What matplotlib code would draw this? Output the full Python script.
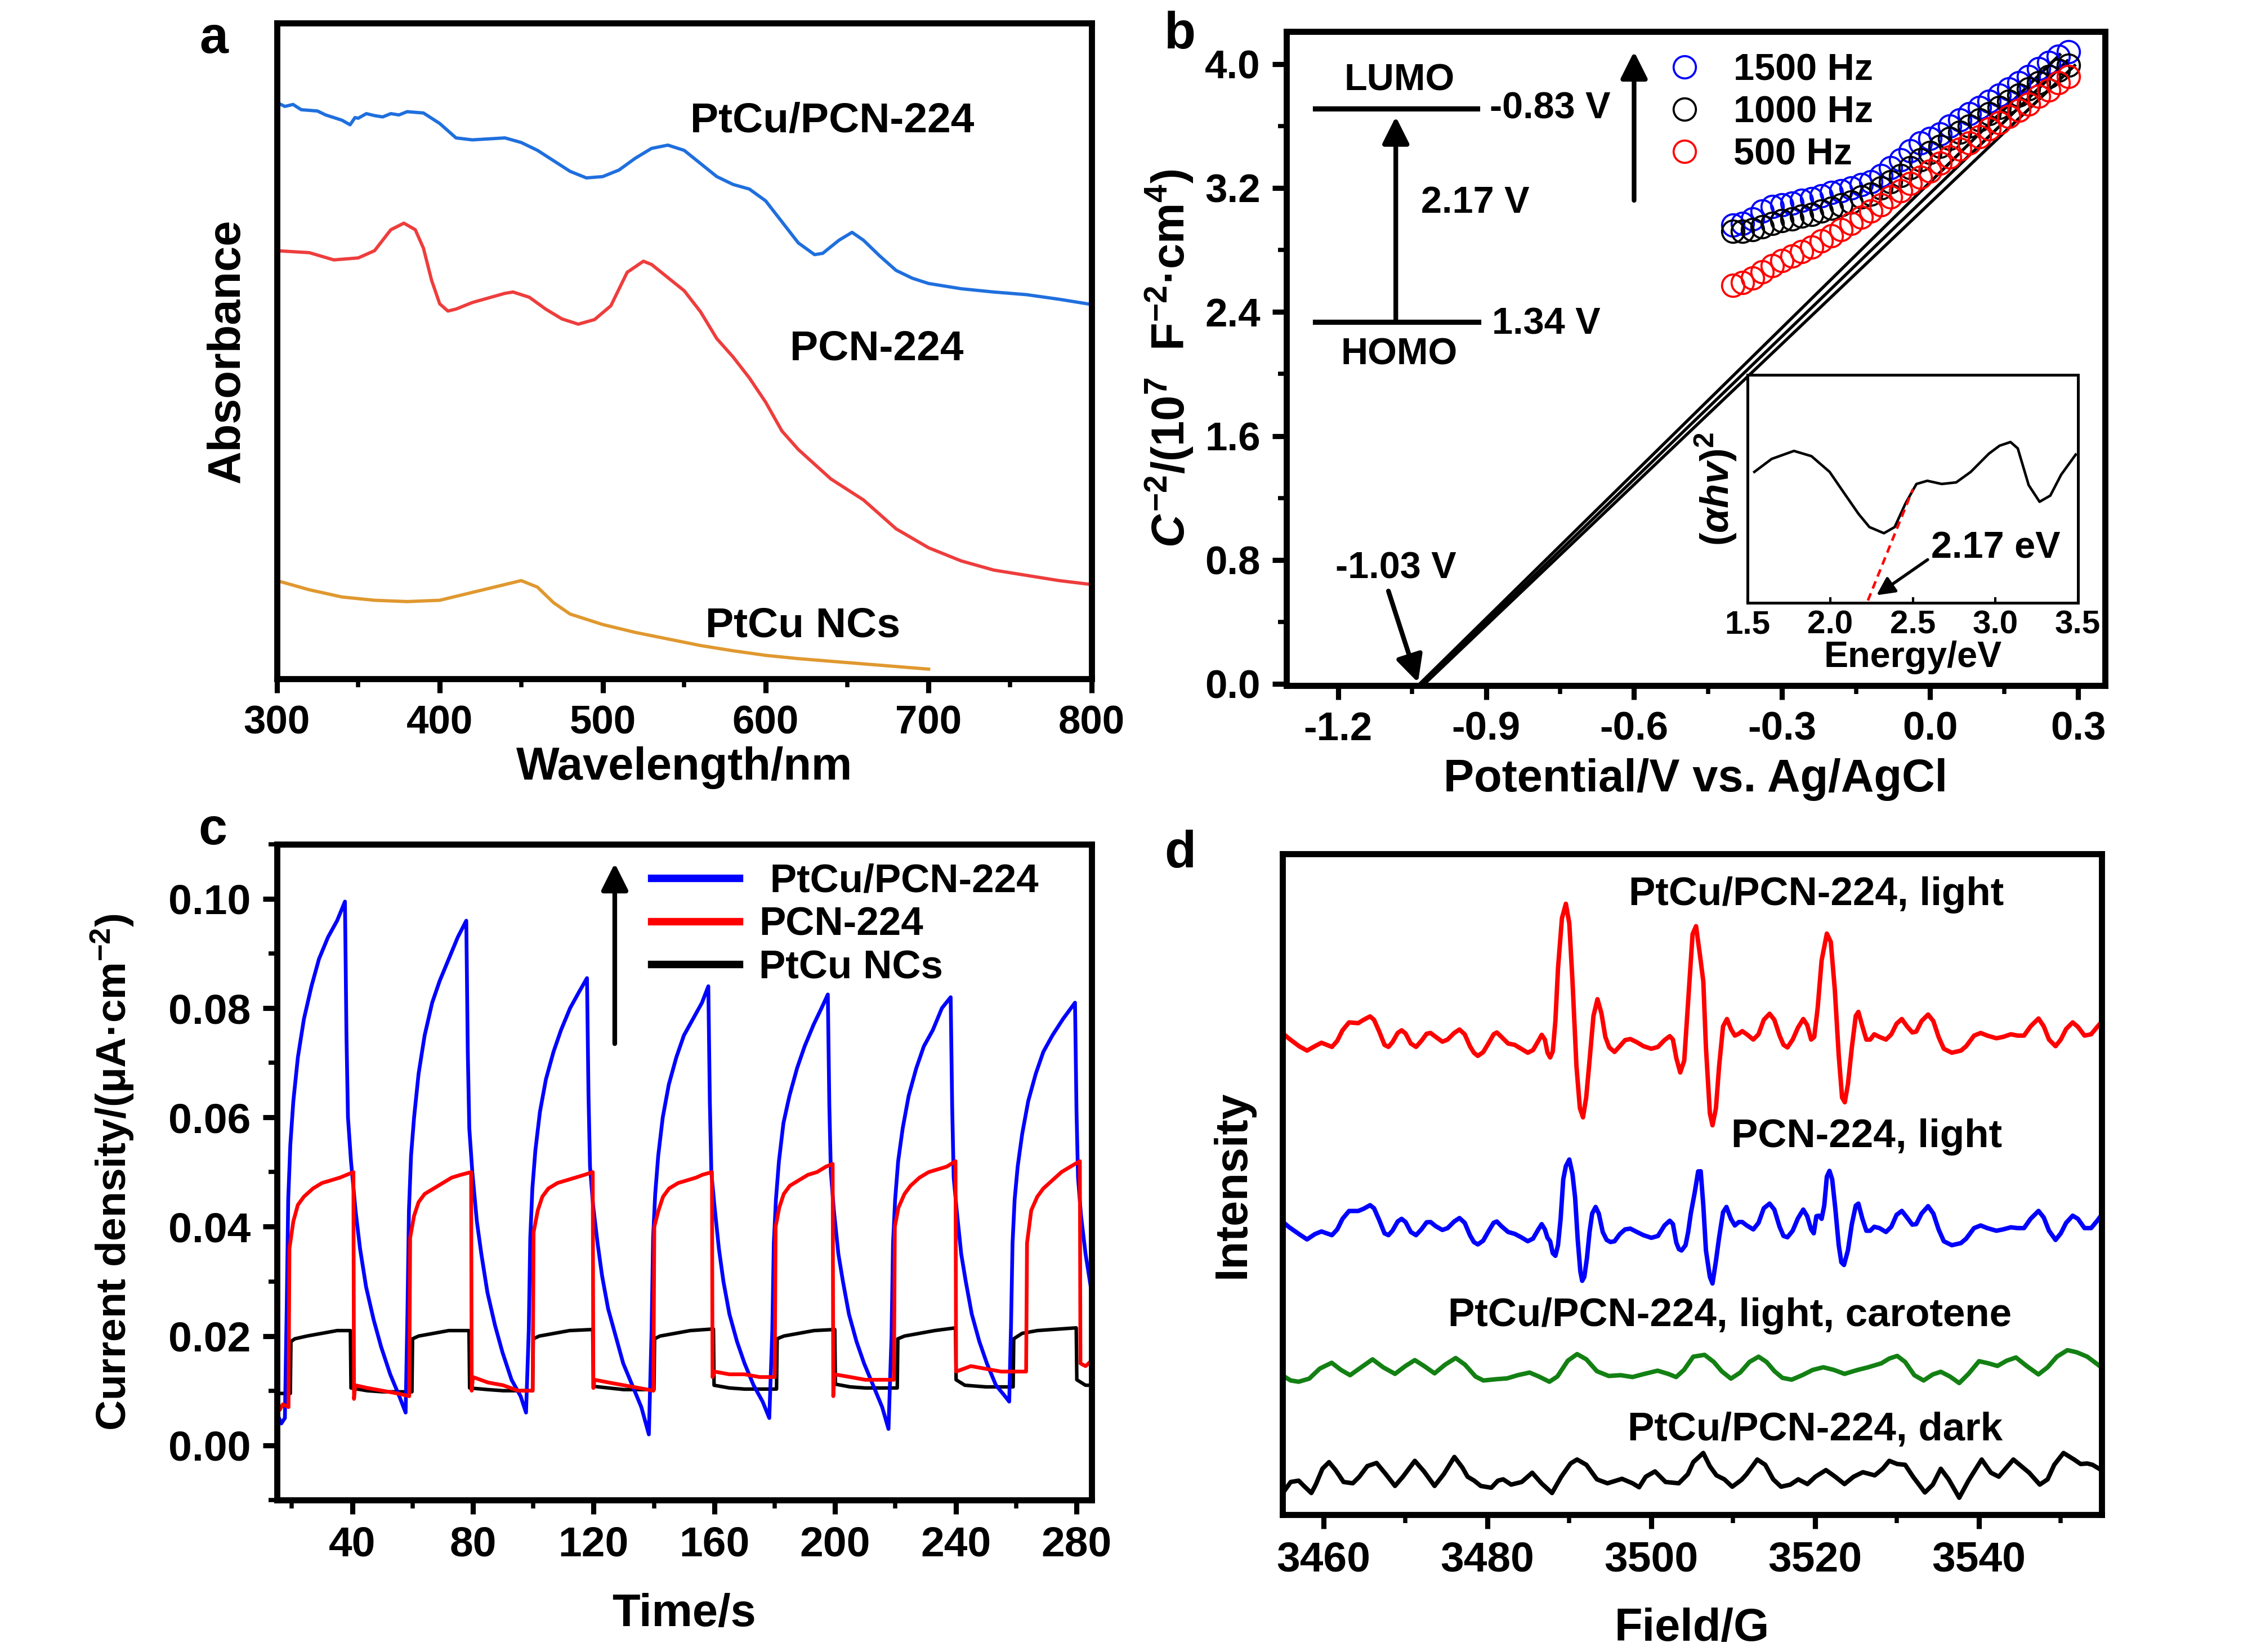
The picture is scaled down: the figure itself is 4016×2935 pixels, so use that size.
import numpy as np
import matplotlib
matplotlib.use('Agg')
import matplotlib.pyplot as plt
from matplotlib.ticker import MultipleLocator, FormatStrFormatter
from matplotlib.lines import Line2D

plt.rcParams['font.family'] = ['Liberation Sans', 'DejaVu Sans']
plt.rcParams['font.weight'] = 'bold'
plt.rcParams['axes.labelweight'] = 'bold'
plt.rcParams['axes.unicode_minus'] = False
plt.rcParams['mathtext.fontset'] = 'custom'
plt.rcParams['mathtext.rm'] = 'Liberation Sans:bold'
plt.rcParams['mathtext.it'] = 'Liberation Sans:italic:bold'
plt.rcParams['mathtext.bf'] = 'Liberation Sans:bold'
plt.rcParams['axes.linewidth'] = 2.6

# ---------------- a: UV-vis absorbance ----------------
wl_ptcu_pcn = [300, 305, 310, 315, 320, 325, 330, 335, 340, 345, 348, 350, 355, 360, 365, 370,
               375, 380, 390, 400, 410, 420, 440, 450, 460, 480, 490, 500,
               510, 520, 530, 540, 550, 560, 570, 580, 590, 600, 610, 620, 630, 635, 645, 653,
               660, 670, 680, 690, 700, 720, 740, 760, 780, 800]
abs_ptcu_pcn = [0.879, 0.873, 0.876, 0.868, 0.867, 0.866, 0.860, 0.856, 0.852, 0.845, 0.856,
                0.855, 0.862, 0.859, 0.857, 0.862, 0.860, 0.865, 0.863, 0.847, 0.825, 0.822,
                0.825, 0.818, 0.806, 0.774, 0.764, 0.766, 0.776, 0.794, 0.809, 0.814, 0.806,
                0.786, 0.766, 0.754, 0.747, 0.729, 0.697, 0.665, 0.647, 0.649, 0.669, 0.681,
                0.669, 0.645, 0.623, 0.611, 0.603, 0.595, 0.590, 0.586, 0.579, 0.571]
wl_pcn = [300, 320, 335, 350, 360, 370, 378, 385, 390, 395, 400, 405, 410, 420, 440, 445, 455,
          465, 475, 485, 495, 505, 515, 525, 530, 540, 550, 560, 570, 580, 590, 600, 610, 620,
          640, 660, 680, 700, 720, 740, 760, 780, 800]
abs_pcn = [0.653, 0.650, 0.639, 0.642, 0.653, 0.685, 0.695, 0.685, 0.657, 0.608, 0.572, 0.561,
           0.564, 0.574, 0.588, 0.590, 0.582, 0.564, 0.549, 0.541, 0.548, 0.569, 0.620, 0.637,
           0.632, 0.612, 0.592, 0.560, 0.519, 0.491, 0.459, 0.422, 0.378, 0.350, 0.305, 0.273,
           0.229, 0.200, 0.180, 0.166, 0.158, 0.150, 0.144]
wl_ptcu = [300, 320, 340, 360, 380, 400, 420, 440, 450, 460, 470, 480, 500, 520, 540, 560, 580,
           600, 620, 640, 660, 680, 700]
abs_ptcu = [0.150, 0.136, 0.125, 0.120, 0.118, 0.120, 0.132, 0.144, 0.150, 0.140, 0.116, 0.099,
            0.083, 0.071, 0.061, 0.051, 0.043, 0.036, 0.031, 0.027, 0.023, 0.019, 0.015]

# ---------------- b: Mott-Schottky ----------------
ms_x = [-0.40, -0.38, -0.36, -0.34, -0.32, -0.30, -0.28, -0.26, -0.24, -0.22, -0.20, -0.18,
        -0.16, -0.14, -0.12, -0.10, -0.08, -0.06, -0.04, -0.02, 0.00, 0.02, 0.04, 0.06, 0.08,
        0.10, 0.12, 0.14, 0.16, 0.18, 0.20, 0.22, 0.24, 0.26, 0.28]
ms_1500 = [2.96, 2.97, 3.00, 3.05, 3.08, 3.09, 3.10, 3.12, 3.13, 3.15, 3.17, 3.18, 3.20, 3.22,
           3.24, 3.28, 3.33, 3.38, 3.44, 3.49, 3.52, 3.55, 3.60, 3.64, 3.68, 3.72, 3.76, 3.80,
           3.84, 3.88, 3.92, 3.97, 4.01, 4.05, 4.08]
ms_1000 = [2.92, 2.92, 2.93, 2.95, 2.97, 2.99, 3.00, 3.02, 3.03, 3.05, 3.07, 3.09, 3.11, 3.14,
           3.16, 3.20, 3.24, 3.28, 3.33, 3.38, 3.43, 3.47, 3.52, 3.56, 3.60, 3.64, 3.68, 3.72,
           3.76, 3.80, 3.84, 3.88, 3.92, 3.96, 3.99]
ms_500 = [2.57, 2.59, 2.62, 2.66, 2.70, 2.73, 2.76, 2.79, 2.82, 2.86, 2.89, 2.93, 2.97, 3.01,
          3.05, 3.09, 3.14, 3.18, 3.23, 3.27, 3.31, 3.36, 3.40, 3.45, 3.49, 3.53, 3.58, 3.62,
          3.66, 3.70, 3.74, 3.79, 3.83, 3.88, 3.92]
fit_x = [[-1.035, 0.263], [-1.030, 0.278], [-1.025, 0.293]]
fit_y = [[0.0, 4.06], [0.0, 4.02], [0.0, 3.99]]

inset_E = [1.54, 1.645, 1.78, 1.886, 1.996, 2.083, 2.171, 2.237, 2.325, 2.39, 2.456, 2.522,
           2.588, 2.675, 2.763, 2.851, 2.961, 3.026, 3.092, 3.136, 3.202, 3.268, 3.333, 3.399,
           3.487]
inset_A = [0.575, 0.632, 0.667, 0.644, 0.575, 0.483, 0.391, 0.333, 0.306, 0.333, 0.437, 0.522,
           0.536, 0.522, 0.529, 0.575, 0.655, 0.690, 0.706, 0.678, 0.517, 0.444, 0.471, 0.563,
           0.651]
tangent_E = [2.228, 2.5]
tangent_A = [0.011, 0.499]

# ---------------- c: photocurrent ----------------
blue_t = [15, 16.5, 17.7,
          18.3, 18.8, 19.5, 20.5, 22, 24, 26.5, 29, 32, 35, 37.6,
          38.1, 38.6, 39.6, 41.1, 42.6, 44.6, 47.1, 49.6, 52.6, 55.6, 57.7,
          58.3, 58.8, 59.5, 60.5, 62, 64, 66.5, 69, 72, 75, 77.8,
          78.3, 78.8, 79.8, 81.3, 82.8, 84.8, 87.3, 89.8, 92.8, 95.8, 97.6,
          98.5, 99.0, 99.7, 100.7, 102.2, 104.2, 106.7, 109.2, 112.2, 115.2, 117.8,
          118.3, 118.8, 119.8, 121.3, 122.8, 124.8, 127.3, 129.8, 132.8, 135.8, 138.3,
          139.2, 139.7, 140.4, 141.4, 142.9, 144.9, 147.4, 149.9, 152.9, 155.9, 158,
          158.5, 159, 160, 161.5, 163, 165, 167.5, 170, 173, 176, 178.2,
          179.2, 179.7, 180.4, 181.4, 182.9, 184.9, 187.4, 189.9, 192.9, 195.5, 197.6,
          198.1, 198.6, 199.6, 201.1, 202.6, 204.6, 207.1, 209.6, 212.6, 215.6, 217.7,
          218.7, 219.2, 219.9, 220.9, 222.4, 224.4, 226.9, 229.4, 232.4, 235.4, 238.3,
          238.8, 239.3, 240.3, 241.8, 243.3, 245.3, 247.8, 250.3, 253.3, 256.3, 257.7,
          258.3, 258.8, 259.5, 260.5, 262, 264, 266.5, 269, 272, 275.5, 279.5,
          280, 280.5, 281.5, 283, 285]
blue_j = [0.006, 0.004, 0.005,
          0.025, 0.045, 0.055, 0.063, 0.071, 0.078, 0.084, 0.089, 0.093, 0.096, 0.0995,
          0.075, 0.060, 0.052, 0.043, 0.036, 0.029, 0.023, 0.018, 0.013, 0.009, 0.006,
          0.024, 0.043, 0.053, 0.060, 0.068, 0.075, 0.081, 0.085, 0.089, 0.093, 0.096,
          0.072, 0.058, 0.050, 0.041, 0.035, 0.028, 0.022, 0.017, 0.012, 0.009, 0.006,
          0.021, 0.038, 0.047, 0.054, 0.061, 0.067, 0.072, 0.076, 0.080, 0.083, 0.0855,
          0.064, 0.051, 0.044, 0.037, 0.031, 0.025, 0.020, 0.015, 0.011, 0.007, 0.002,
          0.021, 0.038, 0.046, 0.053, 0.060, 0.066, 0.071, 0.075, 0.078, 0.081, 0.084,
          0.063, 0.050, 0.044, 0.036, 0.030, 0.024, 0.019, 0.015, 0.011, 0.008, 0.005,
          0.021, 0.037, 0.045, 0.052, 0.059, 0.064, 0.069, 0.073, 0.077, 0.080, 0.0825,
          0.062, 0.050, 0.043, 0.035, 0.030, 0.024, 0.019, 0.015, 0.011, 0.007, 0.003,
          0.020, 0.037, 0.045, 0.052, 0.058, 0.064, 0.069, 0.073, 0.076, 0.080, 0.082,
          0.062, 0.049, 0.043, 0.035, 0.030, 0.024, 0.019, 0.015, 0.011, 0.009, 0.008,
          0.022, 0.037, 0.045, 0.051, 0.057, 0.063, 0.068, 0.072, 0.075, 0.078, 0.081,
          0.061, 0.049, 0.042, 0.035, 0.028]
red_t = [15, 16, 17, 18.9,
         19.2, 20.5, 22, 24, 27, 30, 33, 36, 40.4,
         40.6, 41, 45, 50, 55, 58.9,
         59.2, 60.5, 62, 64, 67, 70, 73, 76, 79.4,
         79.6, 80, 85, 90, 95, 99.8,
         100.1, 101.5, 103, 105, 108, 111, 114, 117, 119.7,
         119.9, 120.3, 125, 130, 135, 139.8,
         140.1, 141.5, 143, 145, 148, 151, 154, 156, 159.2,
         159.4, 160, 165, 170, 175, 180,
         180.3, 181.5, 183, 185, 188, 191, 194, 197, 199.2,
         199.4, 199.8, 205, 210, 215, 219.5,
         219.8, 221, 223, 225, 228, 231, 234, 237, 239.9,
         240.1, 245, 250, 255, 260, 263.3,
         263.6, 265, 267, 269, 272, 275, 278, 281.1,
         281.3, 283, 285]
red_j = [0.007, 0.0065, 0.0075, 0.007,
         0.036, 0.041, 0.044, 0.0455, 0.047, 0.048, 0.0485, 0.049, 0.050,
         0.0085, 0.011, 0.0105, 0.010, 0.0095, 0.009,
         0.038, 0.042, 0.0445, 0.046, 0.047, 0.048, 0.049, 0.0495, 0.050,
         0.010, 0.0125, 0.0115, 0.011, 0.010, 0.010,
         0.039, 0.043, 0.0455, 0.047, 0.048, 0.0485, 0.049, 0.0495, 0.050,
         0.0105, 0.012, 0.0115, 0.011, 0.0105, 0.010,
         0.040, 0.043, 0.0455, 0.047, 0.048, 0.0485, 0.049, 0.0495, 0.050,
         0.0125, 0.0135, 0.013, 0.013, 0.0125, 0.0125,
         0.040, 0.0435, 0.046, 0.0475, 0.0485, 0.0495, 0.050, 0.051, 0.0515,
         0.009, 0.013, 0.0125, 0.012, 0.012, 0.012,
         0.040, 0.0435, 0.046, 0.0475, 0.049, 0.050, 0.0505, 0.051, 0.052,
         0.0135, 0.0145, 0.014, 0.0135, 0.0135, 0.0135,
         0.037, 0.043, 0.0455, 0.047, 0.0485, 0.050, 0.051, 0.052,
         0.015, 0.0145, 0.0155]
black_t = [15, 19.5, 19.7, 21, 25, 30, 35, 39.4,
           39.6, 45, 50, 59.8,
           60, 62, 67, 72, 78.7,
           78.9, 85, 90, 99.8,
           100, 102, 107, 112, 119.7,
           119.9, 125, 130, 140,
           140.2, 142, 147, 152, 159.7,
           159.9, 165, 170, 180.6,
           180.8, 183, 188, 193, 199.9,
           200.1, 205, 210, 220.6,
           220.8, 223, 228, 233, 239.9,
           240.1, 243, 250, 259,
           259.2, 262, 267, 272, 279.9,
           280.1, 283, 285]
black_j = [0.0095, 0.0095, 0.019, 0.0195, 0.020, 0.0205, 0.021, 0.021,
           0.0105, 0.010, 0.0098, 0.0098,
           0.0195, 0.020, 0.0205, 0.021, 0.021,
           0.0105, 0.0102, 0.010, 0.010,
           0.0195, 0.020, 0.0205, 0.021, 0.0212,
           0.0108, 0.0105, 0.0102, 0.0102,
           0.0195, 0.020, 0.0205, 0.021, 0.0213,
           0.011, 0.0105, 0.0103, 0.0103,
           0.0195, 0.020, 0.0205, 0.021, 0.0212,
           0.0112, 0.0107, 0.0105, 0.0105,
           0.0195, 0.020, 0.0205, 0.021, 0.0215,
           0.012, 0.011, 0.0107, 0.0107,
           0.0195, 0.0205, 0.021, 0.0212, 0.0215,
           0.012, 0.011, 0.011]

# ---------------- d: EPR (offset traces, arbitrary units) ----------------
epr_red_B = [3455.00, 3455.75, 3457.03, 3458.00, 3458.96, 3459.76, 3460.40, 3461.04, 3461.69,
             3462.33, 3463.13, 3464.25, 3464.90, 3465.70, 3466.18, 3466.82, 3467.46, 3467.94,
             3468.43, 3469.07, 3469.55, 3470.03, 3470.67, 3471.31, 3471.96, 3472.60, 3473.08,
             3473.72, 3474.52, 3475.16, 3475.97, 3476.61, 3477.25, 3477.89, 3478.37, 3478.85,
             3479.50, 3480.14, 3480.78, 3481.17, 3481.74, 3482.55, 3483.35, 3484.15, 3484.95,
             3485.59, 3486.24, 3486.65, 3487.04, 3487.36, 3487.68, 3488.00, 3488.32, 3488.64,
             3489.12, 3489.60, 3490.02, 3490.41, 3490.89, 3491.31, 3491.69, 3492.08, 3492.49,
             3492.97, 3493.46, 3493.94, 3494.42, 3494.90, 3495.54, 3496.18, 3496.83, 3497.47,
             3498.27, 3499.07, 3500.03, 3500.84, 3501.64, 3502.28, 3502.67, 3503.08, 3503.56,
             3504.05, 3504.37, 3504.69, 3505.07, 3505.49, 3505.97, 3506.38, 3506.70, 3507.18,
             3507.50, 3507.92, 3508.31, 3508.79, 3509.27, 3509.75, 3510.23, 3510.71, 3511.13,
             3511.68, 3512.48, 3513.12, 3513.76, 3514.47, 3515.05, 3515.69, 3516.17, 3516.65,
             3517.29, 3517.93, 3518.58, 3519.06, 3519.54, 3519.92, 3520.34, 3520.82, 3521.46,
             3521.94, 3522.43, 3522.91, 3523.32, 3523.65, 3524.03, 3524.51, 3524.99, 3525.31,
             3525.80, 3526.28, 3526.76, 3527.24, 3527.88, 3528.68, 3529.33, 3529.97, 3530.61,
             3531.25, 3531.89, 3532.37, 3533.02, 3533.82, 3534.46, 3535.10, 3535.74, 3536.71,
             3537.83, 3538.47, 3539.43, 3540.24, 3541.04, 3542.16, 3542.96, 3543.93, 3544.73,
             3545.53, 3546.33, 3547.30, 3547.94, 3548.58, 3549.38, 3550.02, 3550.67, 3551.47,
             3552.11, 3552.91, 3553.72, 3554.52, 3555.00]
epr_red = [72.90, 72.13, 70.93, 70.26, 70.93, 71.45, 71.13, 70.82, 71.73,
           73.33, 74.53, 74.41, 74.92, 75.44, 74.92, 73.13, 71.13, 70.82,
           71.53, 72.93, 73.33, 72.85, 71.33, 70.82, 71.73, 72.81, 72.93,
           72.33, 71.61, 71.93, 72.93, 73.45, 72.73, 70.93, 69.94, 69.46,
           70.02, 71.33, 72.73, 73.01, 72.33, 71.33, 71.13, 70.54, 69.94,
           70.34, 71.73, 72.65, 71.93, 69.94, 69.22, 70.14, 74.73, 82.71,
           90.29, 92.48, 89.49, 80.71, 67.94, 61.56, 60.16, 63.15, 68.74,
           75.52, 78.04, 75.92, 72.33, 70.74, 70.06, 70.93, 71.85, 72.01,
           71.53, 70.93, 70.54, 70.82, 71.85, 72.45, 71.93, 69.14, 66.95,
           68.74, 74.73, 80.71, 87.89, 89.09, 84.70, 80.71, 70.74, 60.76,
           58.96, 61.56, 67.94, 73.93, 75.04, 73.53, 72.53, 72.81, 73.21,
           72.73, 71.93, 72.73, 74.92, 75.84, 74.92, 72.53, 71.13, 70.74,
           71.93, 73.73, 75.04, 74.13, 71.93, 72.33, 76.72, 83.90, 87.97,
           86.70, 79.51, 69.54, 63.15, 62.44, 65.15, 70.74, 75.52, 76.12,
           73.93, 71.93, 71.93, 72.73, 72.33, 71.93, 72.73, 74.33, 75.04,
           73.93, 73.01, 73.13, 74.73, 75.72, 74.73, 72.33, 70.54, 69.94,
           70.26, 70.93, 72.53, 72.93, 72.53, 72.13, 72.33, 72.73, 72.53,
           72.53, 73.93, 75.12, 73.93, 71.93, 70.93, 71.93, 73.53, 74.53,
           73.85, 72.53, 72.73, 73.93, 74.60]
epr_blue_B = [3455.00, 3455.75, 3457.03, 3458.00, 3458.96, 3459.76, 3460.40, 3461.04, 3461.69,
              3462.33, 3463.13, 3464.25, 3464.90, 3465.70, 3466.18, 3466.82, 3467.46, 3467.94,
              3468.43, 3469.07, 3469.55, 3470.03, 3470.67, 3471.31, 3471.96, 3472.60, 3473.08,
              3473.72, 3474.52, 3475.16, 3475.97, 3476.61, 3477.25, 3477.89, 3478.37, 3478.85,
              3479.50, 3480.14, 3480.78, 3481.17, 3481.74, 3482.55, 3483.35, 3484.15, 3484.95,
              3485.59, 3486.24, 3486.65, 3487.04, 3487.36, 3487.68, 3488.00, 3488.32, 3488.64,
              3488.96, 3489.28, 3489.60, 3490.02, 3490.41, 3490.73, 3491.05, 3491.37, 3491.59,
              3491.85, 3492.17, 3492.49, 3492.81, 3493.23, 3493.62, 3494.10, 3494.58, 3495.06,
              3495.54, 3496.18, 3496.83, 3497.47, 3498.27, 3499.07, 3500.03, 3500.84, 3501.64,
              3502.28, 3502.67, 3503.08, 3503.40, 3503.72, 3504.21, 3504.53, 3504.85, 3505.33,
              3505.75, 3506.06, 3506.38, 3506.70, 3507.18, 3507.50, 3507.92, 3508.31, 3508.79,
              3509.20, 3509.75, 3510.23, 3510.71, 3511.13, 3511.68, 3512.48, 3513.12, 3513.76,
              3514.47, 3515.05, 3515.69, 3516.17, 3516.65, 3517.29, 3517.93, 3518.58, 3519.06,
              3519.54, 3519.86, 3520.18, 3520.50, 3520.82, 3521.14, 3521.46, 3521.78, 3522.11,
              3522.49, 3522.91, 3523.23, 3523.55, 3524.03, 3524.51, 3524.99, 3525.31, 3525.80,
              3526.28, 3526.76, 3527.24, 3527.88, 3528.68, 3529.33, 3529.97, 3530.61, 3531.25,
              3531.89, 3532.37, 3533.02, 3533.82, 3534.46, 3535.10, 3535.74, 3536.71, 3537.83,
              3538.47, 3539.43, 3540.24, 3541.04, 3542.16, 3542.96, 3543.93, 3544.73, 3545.53,
              3546.33, 3547.30, 3547.94, 3548.58, 3549.38, 3550.02, 3550.67, 3551.47, 3552.11,
              3552.91, 3553.72, 3554.52, 3555.00]
epr_blue = [44.40, 43.60, 42.49, 41.69, 42.49, 42.89, 42.61, 42.33, 43.20,
            44.80, 45.99, 45.99, 46.32, 46.87, 46.40, 44.60, 42.61, 42.33,
            43.00, 44.40, 44.80, 44.32, 42.81, 42.33, 43.20, 44.28, 44.32,
            43.68, 43.12, 43.40, 44.40, 44.92, 44.20, 42.33, 41.29, 40.93,
            41.49, 42.89, 44.20, 44.40, 43.68, 42.81, 42.53, 42.01, 41.41,
            41.81, 43.20, 44.00, 43.20, 41.93, 41.41, 39.61, 39.21, 40.81,
            44.80, 50.78, 52.78, 53.78, 51.58, 47.99, 41.61, 36.82, 35.42,
            36.02, 38.81, 42.81, 45.60, 46.60, 45.60, 42.81, 41.61, 41.29,
            41.41, 42.49, 43.20, 43.32, 42.81, 42.33, 41.93, 42.21, 43.80,
            44.52, 44.00, 41.21, 40.21, 40.01, 40.81, 42.81, 45.60, 48.79,
            51.98, 52.00, 46.80, 40.01, 36.02, 35.02, 38.42, 42.01, 45.80,
            46.60, 44.80, 43.80, 44.32, 44.32, 43.80, 43.20, 44.20, 46.40,
            47.11, 46.20, 43.60, 42.21, 42.01, 43.00, 44.88, 46.20, 45.20,
            43.20, 42.61, 45.20, 45.28, 44.80, 46.80, 51.18, 52.06, 50.78,
            46.40, 40.81, 38.22, 37.82, 40.01, 44.00, 46.80, 47.11, 44.80,
            43.00, 43.00, 43.60, 43.40, 42.81, 43.60, 45.40, 46.00, 45.00,
            43.92, 44.00, 45.60, 46.72, 45.60, 43.20, 41.41, 40.81, 41.13,
            41.81, 43.40, 43.80, 43.40, 43.00, 43.20, 43.52, 43.40, 43.40,
            44.80, 46.00, 45.00, 43.00, 41.61, 42.61, 44.20, 45.28, 44.80,
            43.40, 43.40, 44.60, 45.40]
epr_green_B = [3455.21, 3456.01, 3456.98, 3458.27, 3459.56, 3461.01, 3462.14, 3463.26, 3464.39,
               3466.00, 3467.29, 3468.74, 3470.03, 3471.16, 3472.28, 3473.57, 3474.86, 3476.15,
               3477.28, 3478.57, 3479.53, 3481.15, 3482.43, 3483.72, 3485.17, 3486.30, 3487.59,
               3488.56, 3489.84, 3490.97, 3492.10, 3493.39, 3494.84, 3496.29, 3497.74, 3499.19,
               3500.80, 3502.09, 3503.06, 3504.02, 3505.15, 3506.53, 3507.66, 3508.62, 3509.75,
               3510.88, 3512.01, 3513.13, 3514.10, 3515.07, 3516.03, 3517.16, 3518.45, 3519.74,
               3521.03, 3522.32, 3523.61, 3525.22, 3526.51, 3528.12, 3529.08, 3530.05, 3531.02,
               3532.14, 3533.27, 3534.40, 3535.37, 3536.49, 3537.62, 3538.75, 3540.04, 3541.17,
               3542.29, 3543.42, 3544.55, 3545.84, 3547.29, 3548.41, 3549.54, 3550.83, 3551.96,
               3553.25, 3554.54, 3555.00]
epr_green = [20.94, 20.34, 20.15, 20.62, 22.14, 23.02, 21.94, 21.14, 22.14,
             23.54, 22.34, 21.34, 22.54, 23.42, 22.54, 21.42, 22.74, 23.74,
             22.74, 20.94, 20.34, 20.54, 20.66, 21.14, 21.54, 20.94, 20.15,
             20.94, 23.34, 24.33, 23.54, 21.74, 21.02, 21.14, 20.86, 21.34,
             21.82, 21.34, 20.86, 21.94, 23.94, 24.22, 23.14, 21.74, 20.62,
             21.54, 23.14, 23.94, 23.14, 21.74, 20.74, 20.46, 21.14, 21.94,
             22.34, 21.94, 21.34, 21.94, 22.34, 22.94, 23.66, 24.06, 23.14,
             21.14, 20.34, 21.26, 21.66, 20.94, 19.95, 21.34, 23.26, 22.94,
             22.54, 23.34, 23.82, 22.54, 21.26, 22.34, 23.94, 24.93, 24.61,
             23.94, 22.74, 22.30]
epr_dark_B = [3455.21, 3456.01, 3456.98, 3457.62, 3458.53, 3459.07, 3459.88, 3460.69, 3461.49,
              3462.46, 3463.59, 3464.39, 3465.36, 3466.49, 3467.61, 3468.74, 3469.71, 3471.16,
              3472.28, 3473.57, 3474.70, 3475.99, 3476.96, 3477.60, 3478.41, 3479.21, 3480.50,
              3481.31, 3481.95, 3482.92, 3484.21, 3485.49, 3486.62, 3487.91, 3489.04, 3490.17,
              3490.97, 3492.10, 3493.39, 3494.68, 3496.45, 3497.74, 3498.54, 3499.35, 3500.48,
              3501.77, 3503.38, 3504.50, 3505.15, 3506.37, 3507.17, 3507.98, 3508.95, 3509.91,
              3511.04, 3511.68, 3512.97, 3513.94, 3514.91, 3515.87, 3517.00, 3517.97, 3519.09,
              3520.06, 3521.35, 3522.48, 3523.61, 3524.73, 3525.86, 3527.31, 3528.28, 3529.08,
              3530.05, 3531.02, 3531.98, 3533.43, 3534.40, 3535.37, 3536.33, 3537.62, 3538.75,
              3540.36, 3541.49, 3542.45, 3544.23, 3546.16, 3547.45, 3548.41, 3549.22, 3550.35,
              3551.64, 3552.44, 3553.25, 3553.89, 3554.70]
epr_dark = [3.59, 4.98, 5.18, 4.38, 3.31, 4.58, 6.98, 7.98, 6.78,
            4.98, 4.78, 5.78, 7.38, 7.86, 6.18, 4.38, 5.78, 8.18,
            6.58, 4.38, 6.18, 8.77, 7.18, 5.78, 5.18, 4.38, 4.11,
            5.18, 5.38, 4.58, 4.98, 6.38, 4.78, 3.31, 5.78, 7.78,
            8.38, 7.58, 5.38, 4.78, 5.46, 4.78, 4.18, 5.78, 6.58,
            4.98, 4.78, 6.18, 7.98, 9.37, 7.38, 5.98, 5.38, 4.26,
            5.30, 6.18, 8.38, 7.58, 5.38, 4.26, 4.58, 5.38, 4.66,
            5.78, 6.78, 5.78, 4.66, 5.78, 6.46, 5.98, 6.98, 8.18,
            7.70, 7.58, 5.78, 3.39, 4.58, 6.98, 5.38, 2.59, 5.18,
            8.38, 6.38, 5.78, 8.38, 6.38, 4.58, 5.38, 7.58, 9.37,
            8.38, 7.70, 7.78, 7.58, 6.98]


def style_ticks(ax, size=17):
    ax.tick_params(which='major', direction='out', length=6, width=2.2, labelsize=size, pad=5)
    ax.tick_params(which='minor', direction='out', length=3.5, width=1.8)


fig = plt.figure(figsize=(4016 / 300, 2935 / 300), dpi=300)

# ---- panel a
ax_a = fig.add_axes([0.1224, 0.589, 0.3604, 0.397])
ax_a.plot(wl_ptcu_pcn, abs_ptcu_pcn, color='#1f6fde', lw=1.4)
ax_a.plot(wl_pcn, abs_pcn, color='#ee3d3d', lw=1.4)
ax_a.plot(wl_ptcu, abs_ptcu, color='#e0982f', lw=1.4)
ax_a.set_xlim(300, 800)
ax_a.set_ylim(0, 1)
ax_a.set_yticks([])
ax_a.xaxis.set_major_locator(MultipleLocator(100))
ax_a.xaxis.set_minor_locator(MultipleLocator(50))
style_ticks(ax_a)
ax_a.set_xlabel('Wavelength/nm', fontsize=19.5, labelpad=2)
ax_a.set_ylabel('Absorbance', fontsize=19.5, labelpad=12)
ax_a.text(641, 0.851, 'PtCu/PCN-224', fontsize=18, ha='center', va='center')
ax_a.text(668, 0.503, 'PCN-224', fontsize=18, ha='center', va='center')
ax_a.text(623, 0.081, 'PtCu NCs', fontsize=18, ha='center', va='center')

# ---- panel b
ax_b = fig.add_axes([0.5689, 0.585, 0.3622, 0.396])
for fx, fy in zip(fit_x, fit_y):
    ax_b.plot(fx, fy, color='k', lw=1.3)
ax_b.plot(ms_x, ms_1500, 'o', mfc='none', mec='#0000ff', ms=9.5, mew=0.9, label='1500 Hz')
ax_b.plot(ms_x, ms_1000, 'o', mfc='none', mec='k', ms=9.5, mew=0.9, label='1000 Hz')
ax_b.plot(ms_x, ms_500, 'o', mfc='none', mec='#ff0000', ms=9.5, mew=0.9, label='500 Hz')
ax_b.set_xlim(-1.305, 0.355)
ax_b.set_ylim(-0.01, 4.21)
ax_b.xaxis.set_major_locator(MultipleLocator(0.3))
ax_b.xaxis.set_minor_locator(MultipleLocator(0.15))
ax_b.yaxis.set_major_locator(MultipleLocator(0.8))
ax_b.yaxis.set_minor_locator(MultipleLocator(0.4))
ax_b.xaxis.set_major_formatter(FormatStrFormatter('%.1f'))
ax_b.yaxis.set_major_formatter(FormatStrFormatter('%.1f'))
style_ticks(ax_b)
ax_b.set_xlabel('Potential/V vs. Ag/AgCl', fontsize=19.5, labelpad=4)
ax_b.set_ylabel(r'$C^{-2}$/(10$^{7}$  F$^{-2}$·cm$^{4}$)', fontsize=19.5, labelpad=4)
ax_b.legend(loc='upper left', bbox_to_anchor=(0.445, 0.99), frameon=False, fontsize=16,
            numpoints=1, handlelength=1.0, handletextpad=0.8, labelspacing=0.2, borderaxespad=0)

arrow_kw = dict(arrowstyle='-|>', color='k', lw=2, mutation_scale=24, shrinkA=0, shrinkB=0)
ax_b.plot([-1.247, -0.918], [3.71, 3.71], color='k', lw=2.2)
ax_b.plot([-1.247, -0.915], [2.335, 2.335], color='k', lw=2.2)
ax_b.annotate('', xy=(-1.083, 3.66), xytext=(-1.083, 2.335), arrowprops=arrow_kw)
ax_b.annotate('', xy=(-0.60, 4.08), xytext=(-0.60, 3.12), arrowprops=arrow_kw)
ax_b.annotate('', xy=(-1.038, 0.01), xytext=(-1.098, 0.60), arrowprops=arrow_kw)
ax_b.text(-1.076, 3.89, 'LUMO', fontsize=16, ha='center', va='center')
ax_b.text(-0.893, 3.71, '-0.83 V', fontsize=16, ha='left', va='center')
ax_b.text(-1.076, 2.125, 'HOMO', fontsize=16, ha='center', va='center')
ax_b.text(-0.888, 2.32, '1.34 V', fontsize=16, ha='left', va='center')
ax_b.text(-1.032, 3.10, '2.17 V', fontsize=16, ha='left', va='center')
ax_b.text(-1.083, 0.745, '-1.03 V', fontsize=16, ha='center', va='center')

# inset
ax_in = fig.add_axes([0.773, 0.635, 0.146, 0.138])
ax_in.plot(inset_E, inset_A, color='k', lw=1.1)
ax_in.plot(tangent_E, tangent_A, color='#ff0000', lw=1.1, ls=(0, (3, 2)))
ax_in.set_xlim(1.5, 3.5)
ax_in.set_ylim(0, 1)
ax_in.set_yticks([])
ax_in.set_xticks([1.5, 2.0, 2.5, 3.0, 3.5])
ax_in.xaxis.set_major_formatter(FormatStrFormatter('%.1f'))
ax_in.tick_params(direction='in', length=2.5, width=1, labelsize=14, pad=3)
for sp in ax_in.spines.values():
    sp.set_linewidth(1.2)
ax_in.set_xlabel('Energy/eV', fontsize=15.5, labelpad=0)
ax_in.set_ylabel(r'$(\alpha hv)^{2}$', fontsize=17, labelpad=4)
ax_in.annotate('', xy=(2.28, 0.034), xytext=(2.59, 0.19),
               arrowprops=dict(arrowstyle='-|>', color='k', lw=1.3, mutation_scale=16,
                               shrinkA=0, shrinkB=0))
ax_in.text(2.61, 0.24, '2.17 eV', fontsize=16, ha='left', va='center')

# ---- panel c
ax_c = fig.add_axes([0.1224, 0.092, 0.3604, 0.397])
l_black, = ax_c.plot(black_t, black_j, color='k', lw=1.5)
l_blue, = ax_c.plot(blue_t, blue_j, color='#0000ff', lw=1.6)
l_red, = ax_c.plot(red_t, red_j, color='#ff0000', lw=1.6)
ax_c.set_xlim(15, 285)
ax_c.set_ylim(-0.01, 0.11)
ax_c.xaxis.set_major_locator(MultipleLocator(40))
ax_c.xaxis.set_minor_locator(MultipleLocator(20))
ax_c.set_yticks([0.00, 0.02, 0.04, 0.06, 0.08, 0.10])
ax_c.yaxis.set_minor_locator(MultipleLocator(0.01))
ax_c.yaxis.set_major_formatter(FormatStrFormatter('%.2f'))
style_ticks(ax_c, 18)
ax_c.set_xlabel('Time/s', fontsize=19.5, labelpad=12)
ax_c.set_ylabel('Current density/(μA·cm$^{-2}$)', fontsize=18, labelpad=14)
hl = [Line2D([], [], color='#0000ff', lw=3.2), Line2D([], [], color='#ff0000', lw=3.2),
      Line2D([], [], color='k', lw=3.2)]
ax_c.legend(hl, [' PtCu/PCN-224', 'PCN-224', 'PtCu NCs'], loc='upper left',
            bbox_to_anchor=(0.44, 0.995), frameon=False, fontsize=17, handlelength=2.2,
            handletextpad=0.5, labelspacing=0.15, borderaxespad=0)
ax_c.annotate('', xy=(127, 0.1065), xytext=(127, 0.0735), arrowprops=arrow_kw)

# ---- panel d
ax_d = fig.add_axes([0.5672, 0.083, 0.3623, 0.400])
ax_d.plot(epr_red_B, epr_red, color='#ff0000', lw=1.9)
ax_d.plot(epr_blue_B, epr_blue, color='#0000ff', lw=1.9)
ax_d.plot(epr_green_B, epr_green, color='#138013', lw=1.9)
ax_d.plot(epr_dark_B, epr_dark, color='k', lw=1.9)
ax_d.set_xlim(3455, 3555)
ax_d.set_ylim(0, 100)
ax_d.set_yticks([])
ax_d.xaxis.set_major_locator(MultipleLocator(20))
ax_d.xaxis.set_minor_locator(MultipleLocator(10))
style_ticks(ax_d, 18)
ax_d.set_xlabel('Field/G', fontsize=19.5, labelpad=12)
ax_d.set_ylabel('Intensity', fontsize=19.5, labelpad=12)
ax_d.text(3520.2, 93.8, 'PtCu/PCN-224, light', fontsize=17, ha='center', va='center')
ax_d.text(3526.3, 57.2, 'PCN-224, light', fontsize=17, ha='center', va='center')
ax_d.text(3509.6, 30.1, 'PtCu/PCN-224, light, carotene', fontsize=17, ha='center', va='center')
ax_d.text(3520.0, 12.8, 'PtCu/PCN-224, dark', fontsize=17, ha='center', va='center')

# panel letters
for lab, x, y in [('a', 0.0946, 0.976), ('b', 0.522, 0.979), ('c', 0.094, 0.497), ('d', 0.522, 0.483)]:
    fig.text(x, y, lab, fontsize=22, ha='center', va='center')

fig.savefig('out.png', dpi=300)
